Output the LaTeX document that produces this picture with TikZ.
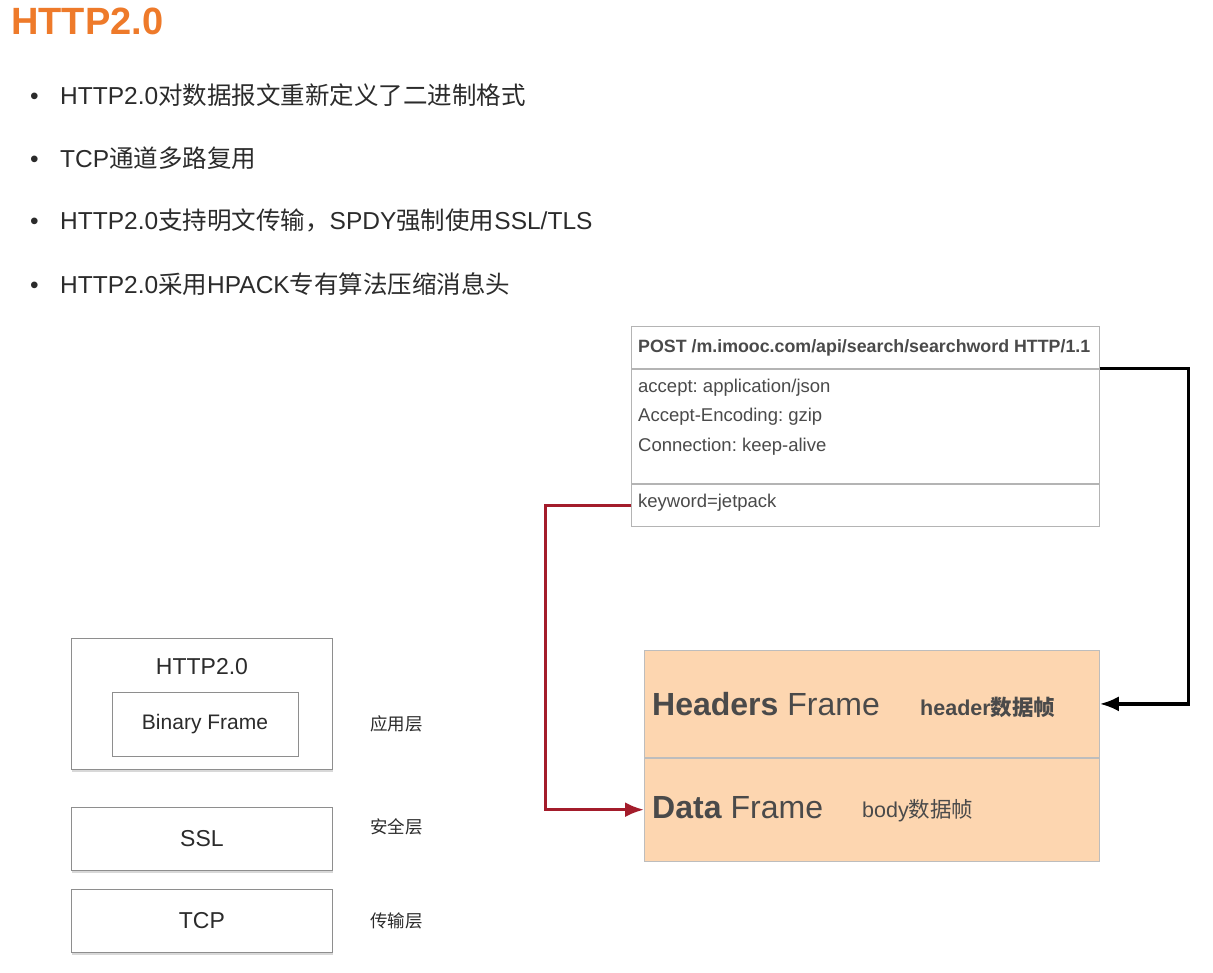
\documentclass[tikz,border=0pt]{standalone}
\usepackage{fontspec}
\setmainfont{Liberation Sans}
\newfontfamily\cjk{Noto Sans CJK SC}
\usetikzlibrary{arrows.meta,positioning,shadows}
\frenchspacing
\definecolor{titleorange}{HTML}{EE7A2A}
\definecolor{textdark}{HTML}{2B2B2B}
\definecolor{reqtextc}{HTML}{4A4A4A}
\definecolor{framefill}{HTML}{FDD6B0}
\definecolor{framegray}{HTML}{BDBDBD}
\definecolor{reqgray}{HTML}{B4B4B4}
\definecolor{layergray}{HTML}{8E8E8E}
\definecolor{arrowred}{HTML}{A31C2B}
\tikzstyle{item} = [anchor=west, inner sep=0pt, text=textdark, font=\fontsize{24.5}{29}\selectfont]
\tikzstyle{layer} = [draw=layergray, thick, fill=white, rectangle, minimum width=261pt, text=textdark, font=\fontsize{23}{27}\selectfont, drop shadow={opacity=0.3, shadow xshift=0.5pt, shadow yshift=-2.5pt}]
\tikzstyle{layername} = [anchor=west, inner sep=0pt, text=textdark, font=\fontsize{17.5}{21}\selectfont\cjk]
\tikzstyle{reqbox} = [draw=reqgray, thick, fill=white, rectangle, minimum width=468pt, inner sep=0pt]
\tikzstyle{reqtext} = [anchor=west, inner sep=0pt, text=reqtextc, font=\fontsize{18.5}{22}\selectfont]
\tikzstyle{frame} = [draw=framegray, thick, fill=framefill, rectangle, minimum width=455pt, inner sep=0pt]
\tikzstyle{frametext} = [anchor=west, inner sep=0pt, text=reqtextc, font=\fontsize{32}{36}\selectfont]
\tikzstyle{framenote} = [anchor=west, inner sep=0pt, text=reqtextc, font=\fontsize{21.5}{24}\selectfont]

\begin{document}
\begin{tikzpicture}[x=1pt, y=-1pt, >={Latex[length=19pt,width=15pt]}]

    \fill[white] (0,0) rectangle (1213,973);
    \useasboundingbox (0,0) rectangle (1213,973);

    % title and the four points
    \node [anchor=west, inner sep=0pt, text=titleorange, font=\fontsize{38}{40}\selectfont\bfseries] (title) at (11,21) {HTTP2.0};
    \node [item] (pointa) at (30,95) {\makebox[30pt][l]{•}HTTP2.0{\cjk 对数据报文重新定义了二进制格式}};
    \node [item] (pointb) at (30,158) {\makebox[30pt][l]{•}TCP{\cjk 通道多路复用}};
    \node [item] (pointc) at (30,220) {\makebox[30pt][l]{•}HTTP2.0{\cjk 支持明文传输，}SPDY{\cjk 强制使用}SSL/TLS};
    \node [item] (pointd) at (30,284) {\makebox[30pt][l]{•}HTTP2.0{\cjk 采用}HPACK{\cjk 专有算法压缩消息头}};

    % the layer stack
    \node [layer, minimum height=131pt, anchor=north west] (http) at (71,638) {};
    \node [inner sep=0pt, text=textdark, font=\fontsize{23}{27}\selectfont] (httpname) at (202,667) {HTTP2.0};
    \node [draw=layergray, thick, rectangle, minimum width=186pt, minimum height=64pt, text=textdark, font=\fontsize{21}{25}\selectfont] (binary) at (205,724) {Binary Frame};
    \node [layer, minimum height=63pt, anchor=north west] (ssl) at (71,807) {SSL};
    \node [layer, minimum height=63pt, anchor=north west] (tcp) at (71,889) {TCP};

    \node [layername] (applayer) at (370,724) {应用层};
    \node [layername] (seclayer) at (370,827) {安全层};
    \node [layername] (translayer) at (370,921) {传输层};

    % the HTTP/1.1 request
    \node [reqbox, minimum height=42pt, anchor=north west] (reqline) at (631,326) {};
    \node [reqbox, minimum height=114pt, below=0pt of reqline] (reqhead) {};
    \node [reqbox, minimum height=42pt, below=0pt of reqhead] (reqbody) {};

    \node [reqtext, font=\fontsize{17.8}{20}\selectfont\bfseries] (post) at (638,348) {POST /m.imooc.com/api/search/searchword HTTP/1.1};
    \node [reqtext] (accept) at (638,388) {accept: application/json};
    \node [reqtext] (encoding) at (638,417) {Accept-Encoding: gzip};
    \node [reqtext] (connection) at (638,447) {Connection: keep-alive};
    \node [reqtext] (keyword) at (638,503) {keyword=jetpack};

    % the two frames
    \node [frame, minimum height=107pt, anchor=north west] (hdrframe) at (644,650) {};
    \node [frame, minimum height=103pt, below=0pt of hdrframe] (dataframe) {};

    \node [frametext] (hdrname) at (652,704) {\textbf{Headers} Frame};
    \node [framenote, font=\fontsize{21.5}{24}\selectfont\bfseries] (hdrnote) at (920,707) {header{\cjk 数据帧}};
    \node [frametext] (dataname) at (652,808) {\textbf{Data} Frame};
    \node [framenote] (datanote) at (862,811) {body{\cjk 数据帧}};

    \draw [->, line width=3.2pt, black] (reqline.south east) -- ++(89,0) |- (hdrframe.east);
    \draw [->, line width=3pt, arrowred] (reqbody.west) -- ++(-86,0) |- (dataframe.west);

\end{tikzpicture}
\end{document}
